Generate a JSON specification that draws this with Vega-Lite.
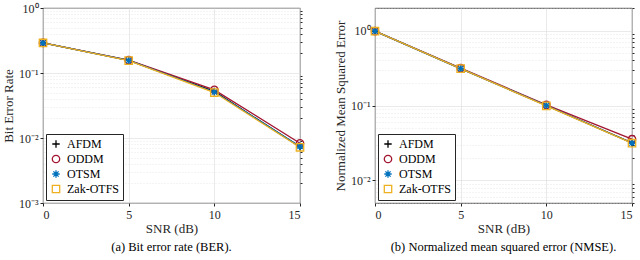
{
  "$schema": "https://vega.github.io/schema/vega-lite/v6.json",
  "padding": {"left": 2, "top": 1, "right": 4, "bottom": 2},
  "spacing": 27,
  "resolve": {"scale": {"color": "independent", "shape": "independent"}, "legend": {"color": "independent", "shape": "independent"}},
  "config": {
    "font": "Liberation Serif",
    "view": {"stroke": "#262626", "strokeWidth": 0.8},
    "axis": {"labelFont": "Liberation Serif", "titleFont": "Liberation Serif", "labelFontSize": 12, "titleFontSize": 13, "titleFontWeight": "normal", "labelColor": "#262626", "titleColor": "#262626", "domain": false, "tickColor": "#262626", "tickSize": 3, "gridColor": "#dcdcdc", "gridWidth": 0.6},
    "legend": {"labelFont": "Liberation Serif", "labelFontSize": 12, "labelColor": "#000000"},
    "title": {"font": "Liberation Serif", "fontSize": 12.5, "fontWeight": "normal", "color": "#000000"}
  },
  "datasets": {
    "ber": [
      {"snr": 0, "scheme": "AFDM", "v": 0.29},
      {"snr": 5, "scheme": "AFDM", "v": 0.157},
      {"snr": 10, "scheme": "AFDM", "v": 0.052},
      {"snr": 15, "scheme": "AFDM", "v": 0.0073},
      {"snr": 0, "scheme": "ODDM", "v": 0.29},
      {"snr": 5, "scheme": "ODDM", "v": 0.158},
      {"snr": 10, "scheme": "ODDM", "v": 0.055},
      {"snr": 15, "scheme": "ODDM", "v": 0.0083},
      {"snr": 0, "scheme": "OTSM", "v": 0.29},
      {"snr": 5, "scheme": "OTSM", "v": 0.156},
      {"snr": 10, "scheme": "OTSM", "v": 0.051},
      {"snr": 15, "scheme": "OTSM", "v": 0.0074},
      {"snr": 0, "scheme": "Zak-OTFS", "v": 0.29},
      {"snr": 5, "scheme": "Zak-OTFS", "v": 0.155},
      {"snr": 10, "scheme": "Zak-OTFS", "v": 0.05},
      {"snr": 15, "scheme": "Zak-OTFS", "v": 0.0072}
    ],
    "nmse": [
      {"snr": 0, "scheme": "AFDM", "v": 0.98},
      {"snr": 5, "scheme": "AFDM", "v": 0.31},
      {"snr": 10, "scheme": "AFDM", "v": 0.1},
      {"snr": 15, "scheme": "AFDM", "v": 0.0318},
      {"snr": 0, "scheme": "ODDM", "v": 0.98},
      {"snr": 5, "scheme": "ODDM", "v": 0.315},
      {"snr": 10, "scheme": "ODDM", "v": 0.102},
      {"snr": 15, "scheme": "ODDM", "v": 0.0355},
      {"snr": 0, "scheme": "OTSM", "v": 0.98},
      {"snr": 5, "scheme": "OTSM", "v": 0.31},
      {"snr": 10, "scheme": "OTSM", "v": 0.1},
      {"snr": 15, "scheme": "OTSM", "v": 0.0316},
      {"snr": 0, "scheme": "Zak-OTFS", "v": 0.98},
      {"snr": 5, "scheme": "Zak-OTFS", "v": 0.31},
      {"snr": 10, "scheme": "Zak-OTFS", "v": 0.099},
      {"snr": 15, "scheme": "Zak-OTFS", "v": 0.0314}
    ]
  },
  "hconcat": [
    {
      "width": 257,
      "height": 195,
      "data": {"name": "ber"},
      "title": {"text": "(a) Bit error rate (BER).", "orient": "bottom", "offset": 6, "font": "Liberation Serif"},
      "layer": [
        {
          "mark": {"type": "line", "strokeWidth": 1.3},
          "encoding": {
            "x": {"field": "snr", "type": "quantitative", "scale": {"domain": [0, 15], "nice": false}, "axis": {"values": [0, 5, 10, 15], "title": "SNR (dB)", "grid": true, "labelPadding": 3, "titlePadding": 2, "labelFont": "Liberation Serif", "titleFont": "Liberation Serif"}},
            "y": {"field": "v", "type": "quantitative", "scale": {"type": "log", "domain": [0.001, 1], "nice": false}, "axis": {"values": [0.001, 0.01, 0.1, 1], "grid": true, "title": "Bit Error Rate", "labelExpr": "datum.value >= 0.5 ? '10⁰' : datum.value >= 0.05 ? '10⁻¹' : datum.value >= 0.005 ? '10⁻²' : '10⁻³'", "titlePadding": 3, "labelFont": "Liberation Serif", "titleFont": "Liberation Serif"}},
            "color": {"field": "scheme", "type": "nominal", "scale": {"domain": ["AFDM", "ODDM", "OTSM", "Zak-OTFS"], "range": ["#000000", "#A2142F", "#0072BD", "#EDB120"]}}
          }
        },
        {
          "mark": {"type": "point", "filled": false, "strokeWidth": 1.3, "size": 55, "opacity": 1},
          "encoding": {
            "x": {"field": "snr", "type": "quantitative"},
            "y": {"field": "v", "type": "quantitative", "axis": {"orient": "right", "values": [0.002, 0.003, 0.004, 0.005, 0.006, 0.007, 0.008, 0.009, 0.02, 0.03, 0.04, 0.05, 0.06, 0.07, 0.08, 0.09, 0.2, 0.3, 0.4, 0.5, 0.6, 0.7, 0.8, 0.9], "labels": false, "title": null, "grid": true, "gridDash": [1, 2], "tickSize": 2}},
            "color": {"field": "scheme", "type": "nominal", "legend": {"title": null, "orient": "bottom-left", "offset": 3, "strokeColor": "#262626", "fillColor": "#ffffff", "padding": 4, "rowPadding": 1, "symbolSize": 55, "labelOffset": 5, "symbolStrokeWidth": 1.3, "labelFont": "Liberation Serif"}},
            "shape": {"field": "scheme", "type": "nominal", "scale": {"domain": ["AFDM", "ODDM", "OTSM", "Zak-OTFS"], "range": ["M-1,0L1,0M0,-1L0,1", "circle", "M-1,0L1,0M0,-1L0,1M-0.7,-0.7L0.7,0.7M-0.7,0.7L0.7,-0.7", "square"]}, "legend": {"title": null}}
          }
        }
      ],
      "resolve": {"axis": {"y": "independent"}}
    },
    {
      "width": 257,
      "height": 195,
      "data": {"name": "nmse"},
      "title": {"text": "(b) Normalized mean squared error (NMSE).", "orient": "bottom", "offset": 6, "font": "Liberation Serif"},
      "layer": [
        {
          "mark": {"type": "line", "strokeWidth": 1.3},
          "encoding": {
            "x": {"field": "snr", "type": "quantitative", "scale": {"domain": [0, 15], "nice": false}, "axis": {"values": [0, 5, 10, 15], "title": "SNR (dB)", "grid": true, "labelPadding": 3, "titlePadding": 2, "labelFont": "Liberation Serif", "titleFont": "Liberation Serif"}},
            "y": {"field": "v", "type": "quantitative", "scale": {"type": "log", "domain": [0.005, 2], "nice": false}, "axis": {"values": [0.01, 0.1, 1], "grid": true, "title": "Normalized Mean Squared Error", "labelExpr": "datum.value >= 0.5 ? '10⁰' : datum.value >= 0.05 ? '10⁻¹' : datum.value >= 0.005 ? '10⁻²' : '10⁻³'", "titlePadding": 3, "labelFont": "Liberation Serif", "titleFont": "Liberation Serif"}},
            "color": {"field": "scheme", "type": "nominal", "scale": {"domain": ["AFDM", "ODDM", "OTSM", "Zak-OTFS"], "range": ["#000000", "#A2142F", "#0072BD", "#EDB120"]}}
          }
        },
        {
          "mark": {"type": "point", "filled": false, "strokeWidth": 1.3, "size": 55, "opacity": 1},
          "encoding": {
            "x": {"field": "snr", "type": "quantitative"},
            "y": {"field": "v", "type": "quantitative", "axis": {"orient": "right", "values": [0.005, 0.006, 0.007, 0.008, 0.009, 0.02, 0.03, 0.04, 0.05, 0.06, 0.07, 0.08, 0.09, 0.2, 0.3, 0.4, 0.5, 0.6, 0.7, 0.8, 0.9, 2], "labels": false, "title": null, "grid": true, "gridDash": [1, 2], "tickSize": 2}},
            "color": {"field": "scheme", "type": "nominal", "legend": {"title": null, "orient": "bottom-left", "offset": 3, "strokeColor": "#262626", "fillColor": "#ffffff", "padding": 4, "rowPadding": 1, "symbolSize": 55, "labelOffset": 5, "symbolStrokeWidth": 1.3, "labelFont": "Liberation Serif"}},
            "shape": {"field": "scheme", "type": "nominal", "scale": {"domain": ["AFDM", "ODDM", "OTSM", "Zak-OTFS"], "range": ["M-1,0L1,0M0,-1L0,1", "circle", "M-1,0L1,0M0,-1L0,1M-0.7,-0.7L0.7,0.7M-0.7,0.7L0.7,-0.7", "square"]}, "legend": {"title": null}}
          }
        }
      ],
      "resolve": {"axis": {"y": "independent"}}
    }
  ]
}
